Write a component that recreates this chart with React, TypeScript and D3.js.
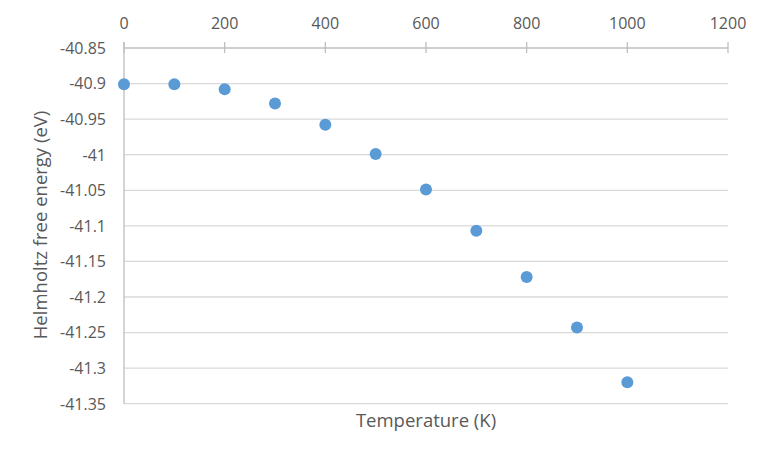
import React from "react";
import * as d3 from "d3";

const temperatures = [0, 100, 200, 300, 400, 500, 600, 700, 800, 900, 1000];
const freeEnergy = [-40.901, -40.901, -40.908, -40.928, -40.958, -40.999, -41.049, -41.107, -41.172, -41.243, -41.32];
const xTicks = [0, 200, 400, 600, 800, 1000, 1200];
const yTicks = [-40.85, -40.9, -40.95, -41, -41.05, -41.1, -41.15, -41.2, -41.25, -41.3, -41.35];

const FONT = "'Open Sans', 'Liberation Sans', sans-serif";

export default function App() {
  const W = 770, H = 458;
  const x = d3.scaleLinear().domain([0, 1200]).range([124, 728]);
  const y = d3.scaleLinear().domain([-41.35, -40.85]).range([403.7, 48]);
  const axisY = y(-40.85);
  const textColor = "#595959";

  return (
    <svg width={W} height={H} style={{ position: "absolute", left: 0, top: 0, background: "#fff" }}>
      <rect x={0} y={0} width={W} height={H} fill="#fff" />
      {/* gridlines */}
      {yTicks.filter(t => t !== -40.85).map(t => (
        <line key={"g" + t} x1={x(0)} x2={x(1200)} y1={y(t)} y2={y(t)} stroke="#d9d9d9" strokeWidth={1.3} />
      ))}
      {/* y axis line */}
      <line x1={x(0)} x2={x(0)} y1={axisY - 6} y2={y(-41.35)} stroke="#bfbfbf" strokeWidth={1.3} />
      {/* x axis line at top */}
      <line x1={x(0)} x2={x(1200)} y1={axisY} y2={axisY} stroke="#bfbfbf" strokeWidth={1.3} />
      {xTicks.map(t => (
        <line key={"t" + t} x1={x(t)} x2={x(t)} y1={axisY - 6} y2={axisY + 5} stroke="#bfbfbf" strokeWidth={1.3} />
      ))}
      {xTicks.map(t => (
        <text key={"xl" + t} x={x(t)} y={29} textAnchor="middle" fontFamily={FONT} fontSize={16} fill={textColor}>
          {String(t)}
        </text>
      ))}
      {yTicks.map(t => (
        <text key={"yl" + t} x={106} y={y(t) + 5.8} textAnchor="end" fontFamily={FONT} fontSize={16} fill={textColor}>
          {String(t)}
        </text>
      ))}
      {temperatures.map((t, i) => (
        <circle key={"p" + t} cx={x(t)} cy={y(freeEnergy[i])} r={6} fill="#5b9bd5" />
      ))}
      <text x={426} y={427} textAnchor="middle" fontFamily={FONT} fontSize={18.5} fill={textColor}>
        Temperature (K)
      </text>
      <text transform={`translate(47,225) rotate(-90)`} textAnchor="middle" fontFamily={FONT} fontSize={18.5} fill={textColor}>
        Helmholtz free energy (eV)
      </text>
    </svg>
  );
}
